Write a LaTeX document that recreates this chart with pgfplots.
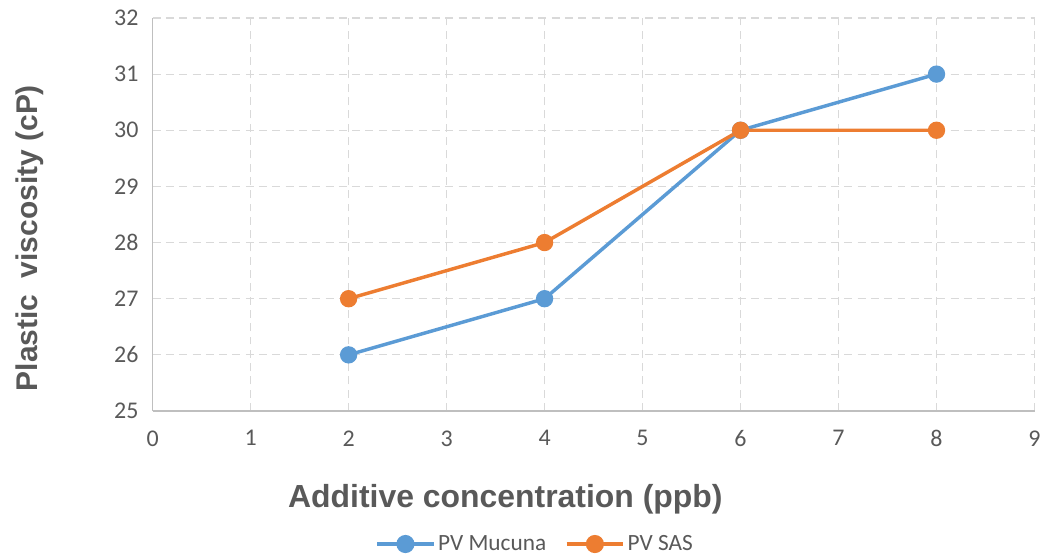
\documentclass[border=0pt]{standalone}
\usepackage{pgfplots}
\pgfplotsset{compat=1.18}
\usepackage{fontspec}
\setmainfont{Carlito}
\newfontfamily\arialf{Liberation Sans}
\definecolor{cblue}{HTML}{5B9BD5}
\definecolor{corange}{HTML}{ED7D31}
\definecolor{txt}{HTML}{595959}
\definecolor{gridc}{HTML}{D9D9D9}
\definecolor{axc}{HTML}{BFBFBF}
\newcommand{\tfont}{\fontsize{18}{21}\selectfont}
\begin{document}
\begin{tikzpicture}
\begin{axis}[
  scale only axis,
  width=663pt, height=295.5pt,
  xmin=0, xmax=9, ymin=25, ymax=32,
  xtick={0,...,9}, ytick={25,...,32},
  axis lines=left,
  axis line style={axc, line width=0.9pt, -},
  tick style={draw=none},
  grid=major,
  major grid style={gridc, line width=0.9pt, dash pattern=on 6pt off 4pt},
  /pgf/number format/assume math mode=true,
  xticklabel={\tfont\pgfmathprintnumber{\tick}},
  yticklabel={\tfont\pgfmathprintnumber{\tick}},
  tick label style={text=txt},
  yticklabel style={xshift=-5pt},
  xticklabel style={yshift=-9pt},
  xlabel={\arialf\bfseries Additive concentration (ppb)},
  ylabel={\arialf\bfseries Plastic\ \ viscosity (cP)},
  xlabel style={at={(axis description cs:0.40,0)}, anchor=center, yshift=-66pt, font=\fontsize{24}{28}\selectfont, text=txt},
  ylabel style={at={(axis description cs:-0.1388,0.44)}, anchor=center, rotate=0, font=\fontsize{22.5}{27}\selectfont, text=txt},
  legend style={at={(axis description cs:0.434,0)}, anchor=center, yshift=-100pt, draw=none, font=\fontsize{17.5}{20}\selectfont, text=txt, legend columns=2, /tikz/every even column/.append style={column sep=12pt}},
  legend image code/.code={\draw[#1, mark=none] (0cm,0cm) -- (1.5cm,0cm); \fill[#1] (0.75cm,0cm) circle (5.5pt);},
  clip=false,
]
\addplot[cblue, line width=2.6pt, mark=*, mark size=5.2pt, mark options={fill=cblue, draw=cblue}] coordinates {(2,26) (4,27) (6,30) (8,31)};
\addlegendentry{PV Mucuna}
\addplot[corange, line width=2.6pt, mark=*, mark size=5.2pt, mark options={fill=corange, draw=corange}] coordinates {(2,27) (4,28) (6,30) (8,30)};
\addlegendentry{PV SAS}
\path (rel axis cs:-0.1731,-0.3655) rectangle (rel axis cs:1.00905,1.0457);
\end{axis}
\end{tikzpicture}
\end{document}
